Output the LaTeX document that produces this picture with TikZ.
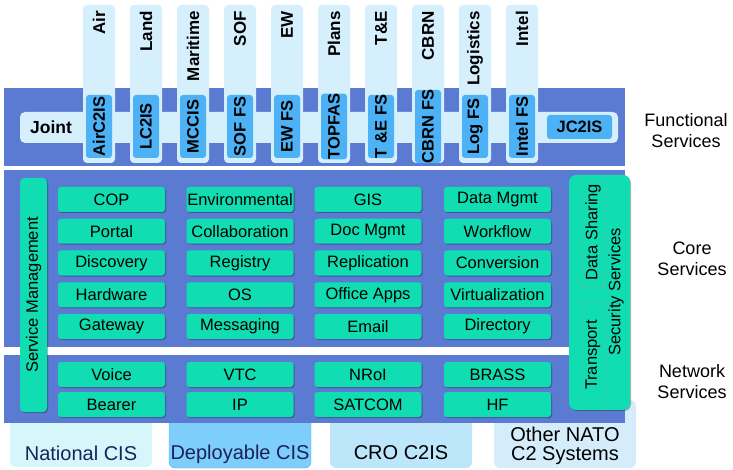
\documentclass[tikz,border=0pt]{standalone}
\usepackage{fontspec}
\setmainfont{Liberation Sans}
\usetikzlibrary{shadows}
\definecolor{band}{RGB}{91,123,210}
\definecolor{pale}{RGB}{213,240,252}
\definecolor{fsblue}{RGB}{76,178,245}
\definecolor{svc}{RGB}{17,221,178}
\definecolor{natcis}{RGB}{213,247,252}
\definecolor{depcis}{RGB}{125,206,250}
\definecolor{crocis}{RGB}{190,230,250}
\definecolor{othcis}{RGB}{213,236,251}
\definecolor{navy}{RGB}{25,35,90}

\begin{document}
\begin{tikzpicture}[x=1pt,y=-1pt,
  shd/.style={drop shadow={shadow xshift=1pt,shadow yshift=-1pt,fill=black,opacity=.3}},
  svcbox/.style={shd,fill=svc,rounded corners=3pt,minimum width=107pt,minimum height=25pt,inner sep=0pt,font=\fontsize{16.5}{18}\selectfont},
  fsbox/.style={fill=fsblue,rounded corners=3pt,rotate=90,minimum width=63pt,minimum height=26pt,inner sep=0pt,font=\fontsize{16.5}{18}\selectfont\bfseries},
  toplbl/.style={rotate=90,anchor=east,inner sep=0pt,font=\fontsize{17}{18}\selectfont\bfseries},
  sidelbl/.style={align=center,font=\fontsize{18}{21}\selectfont},
  cislbl/.style={align=center,font=\fontsize{20}{18}\selectfont},
  vlbl/.style={rotate=90,inner sep=0pt,font=\fontsize{16.5}{18}\selectfont}]
\useasboundingbox (0,0) rectangle (733,470);
% bottom systems
\fill[natcis,rounded corners=6] (10,400) rectangle (152,467);
\filldraw[fill=depcis,draw=depcis!80!blue,rounded corners=6] (169,400) rectangle (311,468);
\fill[crocis,rounded corners=6] (330,400) rectangle (472,468);
\fill[othcis,rounded corners=6] (494,400) rectangle (636,468);
\node[cislbl,text=navy] (nat) at (81,453) {National CIS};
\node[cislbl,text=navy] (dep) at (240,454) {Deployable CIS};
\node[cislbl] (cro) at (401,453) {CRO C2IS};
\node[cislbl,font=\fontsize{20}{19.5}\selectfont] (oth) at (565,446) {Other NATO\\C2 Systems};
% layers
\fill[band] (4,88) rectangle (625,166);
\fill[band] (4,170) rectangle (625,347);
\fill[band] (4,355) rectangle (625,423);
% functional services
\fill[pale,rounded corners=5] (20,112) rectangle (618,143);
\node[font=\fontsize{17.5}{18}\selectfont\bfseries] (joint) at (51,127.5) {Joint};
\foreach \t [count=\i] in {Air,Land,Maritime,SOF,EW,Plans,T\&E,CBRN,Logistics,Intel}{
  \pgfmathsetmacro\px{99+47*(\i-1)}
  \fill[pale,rounded corners=4] (\px-16,5) rectangle (\px+16,163);
  \node[toplbl] (dom\i) at (\px,11) {\t};
}
\foreach \t [count=\i] in {AirC2IS,LC2IS,MCCIS,SOF FS,EW FS,TOPFAS,T \&E FS,CBRN FS,Log FS,Intel FS}{
  \pgfmathsetmacro\px{99+47*(\i-1)}
  \node[fsbox] (fs\i) at (\px,126.5) {\t};
}
\node[fill=fsblue,rounded corners=3pt,minimum width=65pt,minimum height=24pt,inner sep=0pt,font=\fontsize{16.5}{18}\selectfont\bfseries] (jc2is) at (579.5,127) {JC2IS};
% core services
\foreach \a/\b/\c/\d [count=\r] in {COP/Environmental/GIS/Data Mgmt,Portal/Collaboration/Doc Mgmt/Workflow,Discovery/Registry/Replication/Conversion,Hardware/OS/Office Apps/Virtualization,Gateway/Messaging/Email/Directory}{
  \pgfmathsetmacro\py{199.5+31.75*(\r-1)}
  \node[svcbox] (core\r-1) at (111.5,\py) {\a};
  \node[svcbox] (core\r-2) at (240,\py) {\b};
  \node[svcbox] (core\r-3) at (368,\py) {\c};
  \node[svcbox] (core\r-4) at (497.5,\py) {\d};
}
% network services
\foreach \a/\b/\c/\d [count=\r] in {Voice/VTC/NRoI/BRASS,Bearer/IP/SATCOM/HF}{
  \pgfmathsetmacro\py{374.5+30*(\r-1)}
  \node[svcbox] (net\r-1) at (111.5,\py) {\a};
  \node[svcbox] (net\r-2) at (240,\py) {\b};
  \node[svcbox] (net\r-3) at (368,\py) {\c};
  \node[svcbox] (net\r-4) at (497.5,\py) {\d};
}
% cross-layer services
\node[shd,fill=svc,rounded corners=4pt,rotate=90,minimum width=234pt,minimum height=27pt,inner sep=0pt,font=\fontsize{16.5}{18}\selectfont] (svcmgmt) at (33.5,295) {Service Management};
\node[shd,fill=svc,rounded corners=7pt,minimum width=61pt,minimum height=235pt,inner sep=0pt] (sec) at (599.5,292.5) {};
\draw[black!35,rounded corners=3] (605,180) -- (605,287) -- (582,287) -- (582,180);
\draw[black!35,rounded corners=3] (582,410) -- (582,303) -- (605,303) -- (605,410);
\node[vlbl] (share) at (593,232) {Data Sharing};
\node[vlbl] (trans) at (593,355) {Transport};
\node[vlbl] (secsvc) at (616,292) {Security Services};
% layer names
\node[sidelbl] (func) at (686,131) {Functional\\Services};
\node[sidelbl] (core) at (692,259) {Core\\Services};
\node[sidelbl] (net) at (692,382) {Network\\Services};
\end{tikzpicture}
\end{document}
